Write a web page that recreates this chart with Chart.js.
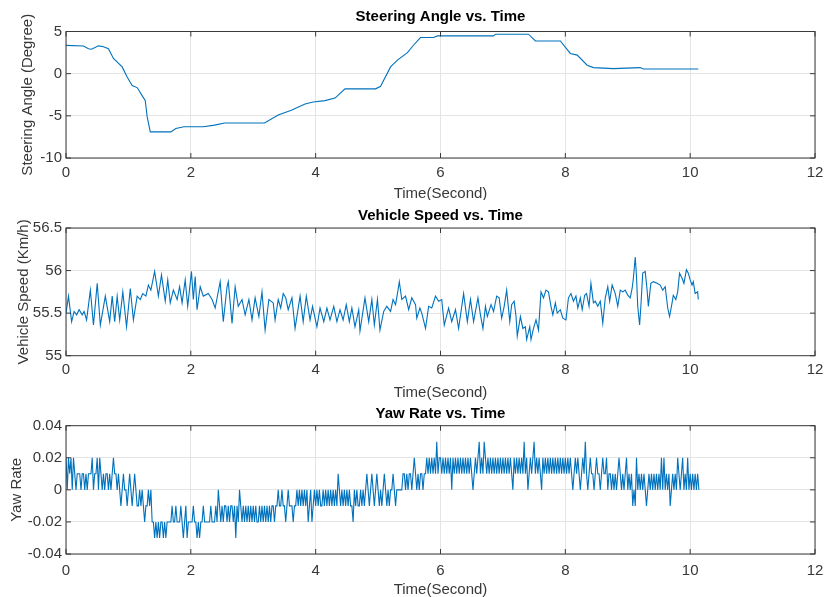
<!DOCTYPE html>
<html><head><meta charset="utf-8">
<script src="https://cdn.jsdelivr.net/npm/chart.js@4/dist/chart.umd.min.js"></script>
<style>
html,body{margin:0;padding:0;background:#fff;}
#wrap{position:relative;width:826px;height:597px;overflow:hidden;background:#fff;}
canvas{position:absolute;left:0;}
</style></head><body>
<div id="wrap">
<canvas id="c1" width="826" height="200" style="top:0;width:826px;height:200px"></canvas>
<canvas id="c2" width="826" height="200" style="top:200px;width:826px;height:200px"></canvas>
<canvas id="c3" width="826" height="197" style="top:400px;width:826px;height:197px"></canvas>
</div>
<script>
// ---------------- data ----------------
const xTickLabels = [0, 2, 4, 6, 8, 10, 12];

const steeringTime = [0,0.28,0.36,0.41,0.52,0.6,0.68,0.76,0.9,0.98,1.06,1.14,1.22,1.27,1.3,1.35,1.68,1.76,1.89,2.2,2.38,2.54,3.18,3.4,3.61,3.83,3.96,4.15,4.31,4.47,4.96,5.04,5.2,5.31,5.47,5.57,5.68,5.89,5.95,6.85,6.88,7.41,7.52,7.92,8.08,8.19,8.35,8.45,8.77,9.2,9.25,10.13];
const steeringDeg  = [3.36,3.28,2.96,2.9,3.3,3.2,2.96,1.8,0.8,-0.4,-1.4,-1.65,-2.6,-3.2,-5.1,-6.9,-6.9,-6.5,-6.3,-6.3,-6.1,-5.85,-5.85,-4.9,-4.35,-3.6,-3.36,-3.2,-2.9,-1.8,-1.8,-1.5,0.8,1.6,2.5,3.4,4.28,4.28,4.48,4.48,4.68,4.68,3.88,3.88,2.4,2.2,1.0,0.72,0.6,0.72,0.56,0.56];

const speedTime = [0.00,0.04,0.09,0.13,0.17,0.21,0.26,0.29,0.33,0.39,0.44,0.50,0.55,0.63,0.70,0.74,0.78,0.82,0.86,0.91,0.97,1.03,1.08,1.14,1.19,1.23,1.28,1.32,1.36,1.42,1.48,1.53,1.59,1.63,1.67,1.72,1.78,1.82,1.86,1.91,1.95,2.01,2.04,2.07,2.10,2.15,2.20,2.28,2.34,2.39,2.47,2.52,2.58,2.60,2.66,2.71,2.76,2.82,2.87,2.93,2.98,3.03,3.09,3.14,3.19,3.25,
3.32,3.35,3.40,3.44,3.48,3.52,3.56,3.62,3.67,3.75,3.80,3.85,3.91,3.95,4.02,4.07,4.13,4.18,4.23,4.29,4.34,4.39,4.44,4.49,4.54,4.58,4.63,4.69,4.71,4.79,4.85,4.90,4.94,4.99,5.03,5.09,5.14,5.20,5.24,5.28,5.31,5.34,5.38,5.44,5.49,5.54,5.60,5.62,5.67,5.70,5.76,5.81,5.86,5.92,5.97,6.02,6.06,6.13,6.18,6.24,6.29,6.37,6.43,6.48,6.53,6.60,
6.64,6.68,6.72,6.75,6.81,6.85,6.90,6.94,6.98,7.02,7.06,7.11,7.14,7.18,7.21,7.23,7.28,7.32,7.36,7.38,7.43,7.45,7.49,7.53,7.57,7.61,7.65,7.69,7.73,7.77,7.80,7.84,7.87,7.92,7.96,8.01,8.05,8.09,8.13,8.17,8.20,8.24,8.27,8.31,8.34,8.38,8.41,8.45,8.48,8.52,8.56,8.60,8.64,8.68,8.71,8.75,8.80,8.84,8.88,8.92,8.96,9.00,9.04,9.07,9.09,9.12,9.14,9.16,9.19,9.21,9.24,9.28,9.31,9.33,9.37,9.41,9.47,9.52,9.56,9.60,9.64,9.67,9.71,9.73,9.77,9.80,9.83,9.87,9.90,9.94,9.97,10.00,10.03,10.05,10.08,10.12,10.13];
const speedKmh = [55.50,55.70,55.40,55.52,55.48,55.54,55.48,55.52,55.42,55.77,55.36,55.85,55.36,55.70,55.40,55.70,55.40,55.70,55.42,55.75,55.34,55.79,55.42,55.70,55.66,55.73,55.70,55.83,55.77,55.99,55.70,55.95,55.64,55.89,55.62,55.77,55.66,55.81,55.62,55.89,55.58,55.99,55.66,55.93,55.54,55.81,55.70,55.73,55.66,55.56,55.87,55.40,55.81,55.87,55.38,55.81,55.58,55.66,55.48,55.66,55.42,55.68,55.46,55.75,55.30,55.66,
55.62,55.42,55.66,55.56,55.73,55.68,55.54,55.68,55.32,55.70,55.40,55.70,55.42,55.58,55.34,55.56,55.40,55.56,55.42,55.58,55.40,55.54,55.42,55.60,55.40,55.56,55.34,55.54,55.29,55.68,55.40,55.66,55.36,55.66,55.30,55.52,55.58,55.52,55.66,55.60,55.73,55.87,55.66,55.70,55.54,55.68,55.60,55.44,55.56,55.50,55.32,55.58,55.56,55.70,55.64,55.66,55.36,55.56,55.40,55.54,55.32,55.73,55.40,55.66,55.40,55.68,
55.48,55.32,55.58,55.46,55.60,55.52,55.70,55.68,55.44,55.58,55.77,55.40,55.60,55.64,55.46,55.23,55.46,55.32,55.34,55.19,55.34,55.19,55.32,55.42,55.30,55.75,55.68,55.77,55.75,55.58,55.48,55.62,55.50,55.54,55.44,55.42,55.68,55.73,55.64,55.70,55.56,55.68,55.54,55.71,55.73,55.58,55.85,55.62,55.64,55.58,55.64,55.38,55.68,55.81,55.64,55.83,55.73,55.58,55.77,55.75,55.77,55.71,55.68,55.79,55.91,56.16,55.93,55.58,55.36,55.58,55.97,55.99,55.77,55.58,55.85,55.87,55.85,55.83,55.77,55.81,55.56,55.46,55.62,55.71,55.66,55.75,55.97,55.91,55.85,56.01,55.97,55.89,55.83,55.87,55.73,55.75,55.66];

// yaw rate, one sample every 0.02 s starting at t = 0
const yawSampleStep = 0.02;
const yawRate = [
0.02,0,0.02,0.01,0.02,0,0.02,0.01,0,0.01,0.01,0.01,0,0.01,0.01,0,0.01,0,0.01,0.01,0.01,0.02,0,0.01,0.01,0.02,0,0.02,0.01,0,0.01,0,0.01,0.01,0,0.01,0,0.01,0.02,0.01,0.01,0,0.01,0,-0.01,0,0.01,0,0,-0.01,
0,0.01,0,-0.01,0,0.01,0,-0.01,-0.01,0,-0.01,0,-0.01,-0.02,-0.01,-0.01,0,-0.01,0,-0.02,-0.02,-0.03,-0.02,-0.03,-0.02,-0.03,-0.02,-0.02,-0.03,-0.02,-0.03,-0.02,-0.02,-0.02,-0.02,-0.01,-0.02,-0.02,-0.01,-0.02,-0.02,-0.02,-0.01,-0.02,-0.03,-0.02,-0.01,-0.03,-0.02,-0.02,
-0.02,-0.02,-0.01,-0.02,-0.02,-0.03,-0.02,-0.03,-0.02,-0.02,-0.01,-0.02,-0.02,-0.02,-0.02,-0.02,-0.01,-0.02,-0.02,-0.02,-0.01,-0.02,0,-0.01,-0.02,-0.01,-0.02,-0.01,-0.01,-0.02,-0.01,-0.02,-0.01,-0.01,-0.02,-0.01,-0.03,-0.01,-0.02,0,-0.01,-0.02,-0.01,-0.02,-0.01,-0.02,-0.01,-0.02,-0.01,-0.02,
-0.01,-0.02,-0.01,-0.02,-0.02,-0.01,-0.02,-0.01,-0.02,-0.01,-0.02,-0.01,-0.02,-0.01,-0.02,-0.01,-0.01,-0.02,-0.01,-0.01,0,-0.01,-0.01,0,-0.01,-0.01,-0.02,-0.01,0,-0.01,-0.01,-0.01,-0.02,-0.01,-0.01,0,-0.01,0,-0.01,0,-0.01,0,-0.01,0,-0.02,-0.01,0,-0.02,-0.01,0,
-0.01,0,-0.01,0,-0.01,-0.01,0,-0.01,0,-0.01,0,-0.01,0,-0.01,0,-0.01,0,-0.01,0.01,0,-0.01,0,-0.01,0,-0.01,0,-0.01,0,-0.01,-0.01,-0.02,0,-0.01,0,-0.01,-0.01,0,-0.01,0,-0.01,0,0.01,0,-0.01,0,0.01,0,-0.01,0,0.01,
0,-0.01,0,-0.01,0,0.01,0,-0.01,0,-0.01,0,0,0.01,0,-0.01,0,0,0,0,0,0.01,0.01,0,0.01,0,0.01,0.01,0,0.01,0.02,0.01,0,0.01,0,0.01,0.01,0,0.01,0.01,0.02,0.01,0.02,0.01,0.02,0.01,0.02,0.01,0.03,0.01,0.02,
0.02,0.01,0.02,0.01,0.02,0.01,0.02,0.01,0.02,0,0.02,0.01,0.02,0.01,0.02,0.01,0.02,0.01,0.02,0.01,0.02,0.01,0.02,0.01,0.02,0.01,0,0.01,0.02,0.01,0.02,0.03,0.01,0.02,0.01,0.03,0.02,0.01,0.02,0.01,0.02,0.01,0.02,0.01,0.02,0.01,0.02,0.01,0.02,0.01,
0.02,0.01,0.02,0.01,0.02,0.01,0.02,0.01,0,0.02,0.01,0.02,0.01,0.02,0.01,0.02,0.01,0.03,0.01,0.02,0,0.01,0.02,0.01,0.02,0.03,0.01,0.02,0.01,0.02,0.01,0,0.02,0.01,0.02,0.01,0.02,0.01,0.02,0.01,0.02,0.01,0.02,0.01,0.02,0.01,0.02,0.01,0.02,0.01,
0.02,0.01,0.02,0.01,0.02,0.01,0,0.01,0.02,0.01,0.02,0.01,0,0.01,0.02,0.01,0.03,0.01,0,0.01,0.02,0.01,0.01,0,0.01,0.02,0.01,0.01,0,0.01,0.02,0.01,0.01,0.02,0,0.01,0.01,0,0.01,0,0.01,0,0.01,0.02,0.01,0,0.01,0,0.01,0.02,
0,0.01,0,0.01,-0.01,0,-0.01,0.02,0,0.01,0,0.01,0,0.01,0,-0.01,0,0.01,0,0.01,0,0.01,0,0.01,0,0.01,0,0.02,0,0.02,0,0.01,0,0.01,-0.01,0,0.01,0,0.01,0,0.02,0.01,0,0.01,0.02,0,0.01,0,0.02,0,
0.01,0,0.01,0,0.01,0,0.01,0];

// ---------------- drawing ----------------
const FONT = '"Liberation Sans", Arial, Helvetica, sans-serif';
const LINE_COLOR = '#0072BD';
const FRAME_COLOR = '#3a3a3a';
const GRID_COLOR = '#e4e4e4';
const TEXT_COLOR = '#383838';

const framePlugin = {
  id: 'frame',
  afterDraw(chart, args, opts) {
    const {ctx, chartArea: a, scales} = chart;
    ctx.save();
    ctx.strokeStyle = FRAME_COLOR;
    ctx.lineWidth = 1;
    ctx.strokeRect(a.left, a.top, a.right - a.left, a.bottom - a.top);
    const L = 5;
    ctx.beginPath();
    scales.x.ticks.forEach((t, i) => {
      const px = scales.x.getPixelForTick(i);
      ctx.moveTo(px, a.top); ctx.lineTo(px, a.top + L);
      ctx.moveTo(px, a.bottom); ctx.lineTo(px, a.bottom - L);
    });
    scales.y.ticks.forEach((t, i) => {
      const py = scales.y.getPixelForTick(i);
      ctx.moveTo(a.left, py); ctx.lineTo(a.left + L, py);
      ctx.moveTo(a.right, py); ctx.lineTo(a.right - L, py);
    });
    ctx.stroke();
    ctx.fillStyle = '#000';
    ctx.font = 'bold 15px ' + FONT;
    ctx.textAlign = 'center';
    ctx.textBaseline = 'alphabetic';
    ctx.fillText(opts.text, (a.left + a.right) / 2, opts.baseline);
    ctx.restore();
  }
};

function makeChart(id, o) {
  return new Chart(document.getElementById(id), {
    type: 'line',
    data: { datasets: [{ data: o.points, borderColor: LINE_COLOR, borderWidth: 1.1, pointRadius: 0, tension: 0, fill: false }] },
    plugins: [framePlugin],
    options: {
      responsive: false, animation: false, events: [],
      layout: { padding: { top: o.top, right: 11, bottom: 0, left: 0 } },
      plugins: { legend: { display: false }, tooltip: { enabled: false }, title: { display: false },
                 frame: { text: o.title, baseline: o.titleBaseline } },
      scales: {
        x: {
          type: 'linear', min: xTickLabels[0], max: xTickLabels[xTickLabels.length - 1],
          afterBuildTicks: s => { s.ticks = xTickLabels.map(v => ({ value: v })); },
          afterFit: s => { s.height = o.xHeight; s.paddingLeft = 0; s.paddingRight = 0; },
          ticks: { color: TEXT_COLOR, font: { family: FONT, size: 15 }, padding: o.xTickPad, maxRotation: 0, autoSkip: false },
          grid: { color: GRID_COLOR, drawTicks: false },
          border: { display: false },
          title: { display: true, text: 'Time(Second)', color: TEXT_COLOR, font: { family: FONT, size: 15, lineHeight: 1 }, padding: { top: 0, bottom: o.xTitlePad } }
        },
        y: {
          type: 'linear', min: o.yMin, max: o.yMax,
          afterBuildTicks: s => { s.ticks = o.yTicks.map(v => ({ value: v })); },
          afterFit: s => { s.width = 66; },
          ticks: { color: TEXT_COLOR, font: { family: FONT, size: 15 }, padding: 4,
                   callback: v => String(parseFloat(Number(v).toFixed(3))) },
          grid: { color: GRID_COLOR, drawTicks: false },
          border: { display: false },
          title: { display: true, text: o.yTitle, color: TEXT_COLOR, font: { family: FONT, size: 15, lineHeight: 1 }, padding: { top: o.yTitlePad, bottom: 0 } }
        }
      }
    }
  });
}

const steeringTicks = [-10, -5, 0, 5];
const speedTicks = [55, 55.5, 56, 56.5];
const yawTicks = [-0.04, -0.02, 0, 0.02, 0.04];

makeChart('c1', {
  points: steeringTime.map((t, i) => ({ x: t, y: steeringDeg[i] })),
  title: 'Steering Angle vs. Time', titleBaseline: 20.5,
  top: 31.5, xHeight: 42, xTickPad: 6, xTitlePad: -1.5,
  yMin: -10, yMax: 5, yTicks: steeringTicks, yTitle: 'Steering Angle (Degree)', yTitlePad: 20
});
makeChart('c2', {
  points: speedTime.map((t, i) => ({ x: t, y: speedKmh[i] })),
  title: 'Vehicle Speed vs. Time', titleBaseline: 19.5,
  top: 28, xHeight: 44.3, xTickPad: 5, xTitlePad: -0.5,
  yMin: 55, yMax: 56.5, yTicks: speedTicks, yTitle: 'Vehicle Speed (Km/h)', yTitlePad: 16
});
makeChart('c3', {
  points: yawRate.map((v, i) => ({ x: i * yawSampleStep, y: v })),
  title: 'Yaw Rate vs. Time', titleBaseline: 17.5,
  top: 25.7, xHeight: 43, xTickPad: 7.5, xTitlePad: 0,
  yMin: -0.04, yMax: 0.04, yTicks: yawTicks, yTitle: 'Yaw Rate', yTitlePad: 9.5
});
</script>
</body></html>
